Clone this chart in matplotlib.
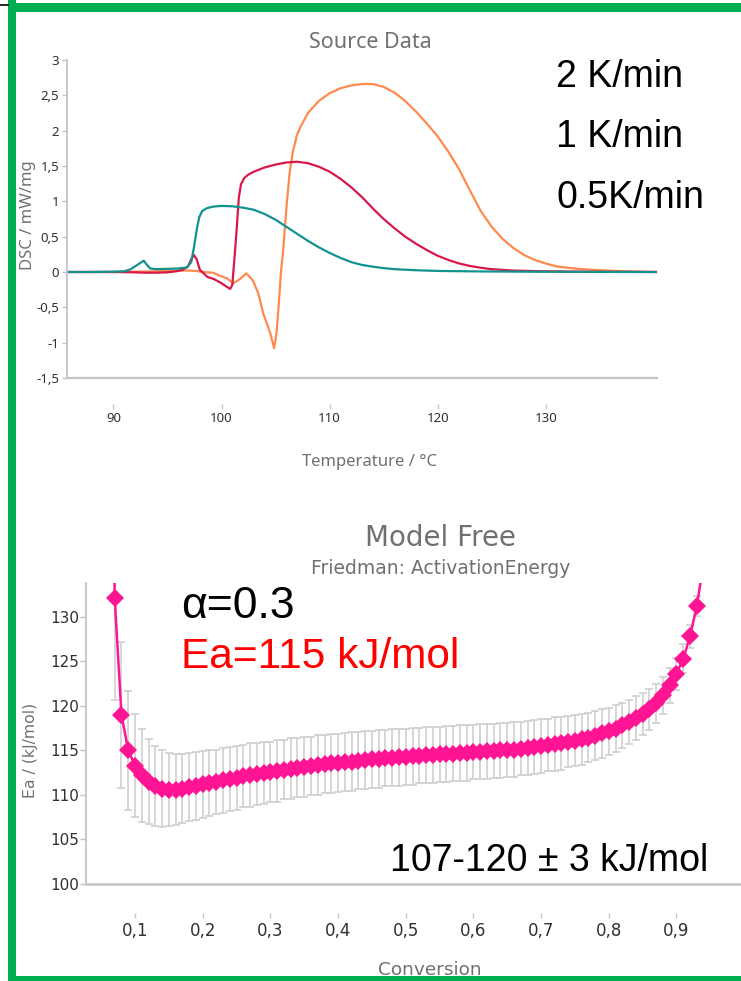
import matplotlib
matplotlib.use("Agg")
import matplotlib.pyplot as plt
from matplotlib.patches import Rectangle
from matplotlib.ticker import FuncFormatter

plt.rcParams['axes.unicode_minus'] = False

# ---- Source Data: DSC curves ----
t_2k = [85.7, 88, 90, 92, 94, 95, 96, 97, 97.6, 98.3, 99.2, 99.8, 100.5, 101.1, 101.7,
        102.3, 102.9, 103.4, 103.85, 104.5, 104.87, 105.1, 105.3, 105.5, 105.7, 106.0,
        106.3, 106.6, 107.0, 107.3, 108, 109, 110, 111, 112, 113, 114, 115, 116, 117,
        118, 119, 120, 121, 122, 123, 124, 125, 126, 127, 128, 129, 130, 131, 132, 133,
        135, 137, 140.3]
dsc_2k = [0.0, 0.0, 0.0, 0.005, 0.01, 0.015, 0.02, 0.02, 0.015, 0.0, -0.01, -0.05, -0.09,
          -0.16, -0.1, -0.02, -0.12, -0.3, -0.58, -0.86, -1.08, -0.85, -0.45, 0.0, 0.3,
          0.9, 1.4, 1.7, 1.95, 2.05, 2.25, 2.42, 2.53, 2.6, 2.64, 2.66, 2.66, 2.62, 2.54,
          2.42, 2.27, 2.1, 1.92, 1.7, 1.45, 1.15, 0.86, 0.64, 0.47, 0.34, 0.24, 0.17, 0.12,
          0.08, 0.06, 0.045, 0.025, 0.012, 0.0]

t_1k = [85.7, 88, 90, 92, 93, 94, 95, 95.8, 96.4, 96.9, 97.2, 97.45, 97.7, 98.0, 98.7,
        99.3, 99.9, 100.4, 100.8, 101.0, 101.2, 101.4, 101.6, 101.8, 102.1, 102.5, 103,
        104, 105, 106, 107, 108, 109, 110, 111, 112, 113, 114, 115, 116, 117, 118, 119,
        120, 121, 122, 123, 124, 125, 127, 130, 135, 140.3]
dsc_1k = [0.0, 0.0, 0.0, -0.005, -0.01, -0.01, -0.005, 0.01, 0.03, 0.08, 0.18, 0.24, 0.18,
          0.03, -0.07, -0.1, -0.15, -0.2, -0.24, -0.18, 0.2, 0.6, 1.05, 1.24, 1.33, 1.38,
          1.42, 1.48, 1.52, 1.55, 1.56, 1.54, 1.49, 1.42, 1.32, 1.2, 1.06, 0.9, 0.75, 0.62,
          0.5, 0.4, 0.31, 0.23, 0.17, 0.12, 0.085, 0.06, 0.04, 0.02, 0.01, 0.003, 0.0]

t_05k = [85.7, 88, 90, 91, 91.6, 92.2, 92.8, 93.1, 93.4, 94, 95, 96, 96.8, 97.2, 97.45,
         97.75, 97.95, 98.2, 98.6, 99.2, 100, 101, 102, 103, 104, 105, 106, 107, 108, 109,
         110, 111, 112, 113, 114, 115, 116, 118, 120, 124, 130, 140.3]
dsc_05k = [0.0, 0.0, 0.005, 0.01, 0.04, 0.1, 0.16, 0.1, 0.05, 0.04, 0.045, 0.05, 0.065,
           0.14, 0.35, 0.64, 0.78, 0.86, 0.9, 0.925, 0.935, 0.93, 0.91, 0.88, 0.82, 0.74,
           0.64, 0.54, 0.44, 0.35, 0.27, 0.2, 0.14, 0.1, 0.075, 0.055, 0.04, 0.025, 0.015,
           0.008, 0.003, 0.0]

rate_labels = ["2 K/min", "1 K/min", "0.5K/min"]
dsc_yticks = [-1.5, -1, -0.5, 0, 0.5, 1, 1.5, 2, 2.5, 3]
dsc_xticks = [90, 100, 110, 120, 130]

# ---- Model Free: Friedman activation energy ----
conversion = [0.06, 0.07, 0.08, 0.09, 0.10, 0.11, 0.12, 0.13, 0.14, 0.15, 0.16, 0.17, 0.18,
              0.19, 0.20, 0.21, 0.22, 0.23, 0.24, 0.25, 0.26, 0.27, 0.28, 0.29, 0.30, 0.31,
              0.32, 0.33, 0.34, 0.35, 0.36, 0.37, 0.38, 0.39, 0.40, 0.41, 0.42, 0.43, 0.44,
              0.45, 0.46, 0.47, 0.48, 0.49, 0.50, 0.51, 0.52, 0.53, 0.54, 0.55, 0.56, 0.57,
              0.58, 0.59, 0.60, 0.61, 0.62, 0.63, 0.64, 0.65, 0.66, 0.67, 0.68, 0.69, 0.70,
              0.71, 0.72, 0.73, 0.74, 0.75, 0.76, 0.77, 0.78, 0.79, 0.80, 0.81, 0.82, 0.83,
              0.84, 0.85, 0.86, 0.87, 0.88, 0.89, 0.90, 0.91, 0.92, 0.93, 0.94]
ea = [200.0, 132.1, 119.0, 115.0, 113.3, 112.2, 111.5, 111.0, 110.7, 110.6, 110.6, 110.7,
      110.9, 111.0, 111.2, 111.35, 111.5, 111.65, 111.8, 111.95, 112.1, 112.25, 112.35,
      112.5, 112.6, 112.7, 112.85, 112.95, 113.05, 113.15, 113.25, 113.35, 113.45, 113.55,
      113.6, 113.7, 113.75, 113.85, 113.9, 114.0, 114.05, 114.1, 114.2, 114.25, 114.3,
      114.35, 114.4, 114.45, 114.5, 114.55, 114.6, 114.65, 114.7, 114.75, 114.8, 114.85,
      114.9, 114.95, 115.0, 115.05, 115.1, 115.2, 115.3, 115.4, 115.5, 115.6, 115.7, 115.8,
      116.0, 116.1, 116.25, 116.45, 116.65, 116.9, 117.15, 117.45, 117.8, 118.2, 118.65,
      119.1, 119.6, 120.3, 121.2, 122.3, 123.6, 125.3, 127.8, 131.2, 136.0]
ea_err = [15.0, 11.4, 8.2, 6.7, 5.8, 5.2, 4.8, 4.5, 4.3, 4.1, 4.0, 3.9, 3.85, 3.8, 3.75,
          3.7, 3.6, 3.65, 3.55, 3.6, 3.5, 3.55, 3.45, 3.5, 3.4, 3.45, 3.35, 3.4, 3.3, 3.4,
          3.3, 3.35, 3.25, 3.3, 3.3, 3.25, 3.3, 3.2, 3.25, 3.2, 3.25, 3.15, 3.2, 3.2, 3.15,
          3.2, 3.1, 3.15, 3.15, 3.1, 3.15, 3.1, 3.1, 3.15, 3.05, 3.1, 3.1, 3.05, 3.1, 3.05,
          3.05, 3.0, 3.05, 3.0, 3.0, 2.95, 3.0, 2.95, 2.9, 2.9, 2.85, 2.8, 2.75, 2.7, 2.65,
          2.6, 2.55, 2.5, 2.45, 2.4, 2.3, 2.2, 2.1, 2.0, 1.8, 1.6, 1.3, 1.1, 1.0]
ea_xticks = [0.1, 0.2, 0.3, 0.4, 0.5, 0.6, 0.7, 0.8, 0.9, 1.0]
ea_yticks = [100, 105, 110, 115, 120, 125, 130]

comma = FuncFormatter(lambda v, p: f"{v:g}".replace(".", ","))

W, H = 741, 981
fig = plt.figure(figsize=(W / 100, H / 100), dpi=100)


def fx(px):
    return px / W


def fy(py):
    return 1 - py / H


axis_gray = "#c4c4c4"
text_gray = "#707070"

# ---------------- top chart ----------------
ax1 = fig.add_axes([fx(67), fy(378), fx(590), 318 / H])
ax1.plot(t_2k, dsc_2k, color="#FF8A4E", lw=1.6)
ax1.plot(t_1k, dsc_1k, color="#D9184A", lw=1.6)
ax1.plot(t_05k, dsc_05k, color="#13938F", lw=1.6)
ax1.set_xlim(85.7, 140.3)
ax1.set_ylim(-1.5, 3)
ax1.set_yticks(dsc_yticks)
ax1.set_xticks(dsc_xticks)
ax1.yaxis.set_major_formatter(comma)
for s in ["top", "right"]:
    ax1.spines[s].set_visible(False)
ax1.spines["left"].set_color(axis_gray)
ax1.spines["left"].set_linewidth(1.3)
ax1.spines["bottom"].set_position(("outward", 19))
ax1.spines["bottom"].set_visible(False)
ax1.axhline(-1.5, color=axis_gray, lw=1.6, clip_on=False)
ax1.tick_params(axis="y", length=3.5, width=1, color=axis_gray, pad=2,
                labelsize=9.5, labelcolor="#303030")
ax1.tick_params(axis="x", length=3.5, width=1, color=axis_gray, pad=2,
                labelsize=9.5, labelcolor="#303030")
for lab in ax1.get_xticklabels() + ax1.get_yticklabels():
    lab.set_family("Noto Sans")

fig.text(fx(370), fy(42), "Source Data", ha="center", va="center",
         fontsize=15.5, color=text_gray, family="Noto Sans")
fig.text(fx(28), fy(215), "DSC / mW/mg", ha="center", va="center", rotation=90,
         fontsize=12, color=text_gray, family="Noto Sans")
fig.text(fx(370), fy(462), "Temperature / °C", ha="center", va="center",
         fontsize=12, color=text_gray, family="Noto Sans")

for lab, ypx in zip(rate_labels, [77, 137, 198]):
    fig.text(fx(556), fy(ypx), lab, ha="left", va="center", fontsize=27,
             color="black", family="Liberation Sans")

# ---------------- bottom chart ----------------
ax2 = fig.add_axes([fx(86), fy(884), fx(692), 301 / H])
ax2.errorbar(conversion, ea, yerr=ea_err, fmt="none", ecolor="#cbcbcb",
             elinewidth=1.1, capsize=3, capthick=1.1, zorder=2)
ax2.plot(conversion, ea, color="#FF1493", lw=1.8, marker="D", ms=9.5,
         markeredgewidth=0, zorder=3)
ax2.set_xlim(0.0276, 1.05)
ax2.set_ylim(100, 133.8)
ax2.set_xticks(ea_xticks)
ax2.set_yticks(ea_yticks)
ax2.xaxis.set_major_formatter(comma)
for s in ["top", "right"]:
    ax2.spines[s].set_visible(False)
ax2.spines["left"].set_color(axis_gray)
ax2.spines["left"].set_linewidth(1.3)
ax2.spines["bottom"].set_position(("outward", 21))
ax2.spines["bottom"].set_visible(False)
ax2.axhline(100, color=axis_gray, lw=1.8, clip_on=False)
ax2.tick_params(axis="y", length=4, width=1, color=axis_gray, pad=1,
                labelsize=11, labelcolor="#303030")
ax2.tick_params(axis="x", length=3.5, width=1, color=axis_gray, pad=3,
                labelsize=12, labelcolor="#303030")

fig.text(fx(441), fy(538), "Model Free", ha="center", va="center",
         fontsize=20, color=text_gray)
fig.text(fx(441), fy(568), "Friedman: ActivationEnergy", ha="center", va="center",
         fontsize=13.5, color=text_gray)
fig.text(fx(31), fy(750), "Ea / (kJ/mol)", ha="center", va="center", rotation=90,
         fontsize=11.3, color=text_gray)
fig.text(fx(430), fy(970), "Conversion", ha="center", va="center",
         fontsize=13.3, color=text_gray)

fig.text(fx(181), fy(606), "α=0.3", ha="left", va="center", fontsize=32,
         color="black", family="Liberation Sans")
fig.text(fx(181), fy(657), "Ea=115 kJ/mol", ha="left", va="center", fontsize=30.5,
         color="#FF0000", family="Liberation Sans")
fig.text(fx(390), fy(861), "107-120 ± 3 kJ/mol", ha="left", va="center", fontsize=27,
         color="black", family="Liberation Sans")

# ---------------- green frame ----------------
green = "#00B050"
fig.add_artist(Rectangle((fx(8), 0), fx(8), 1, transform=fig.transFigure,
                         color=green, lw=0))
fig.add_artist(Rectangle((fx(8), fy(12)), 1, 9 / H, transform=fig.transFigure,
                         color=green, lw=0))
fig.add_artist(Rectangle((fx(8), 0), 1, 5 / H, transform=fig.transFigure,
                         color=green, lw=0))
fig.add_artist(plt.Line2D([0, fx(8)], [fy(5), fy(5)], transform=fig.transFigure,
                          color="black", lw=1.2))

fig.savefig("out.png", dpi=100)
